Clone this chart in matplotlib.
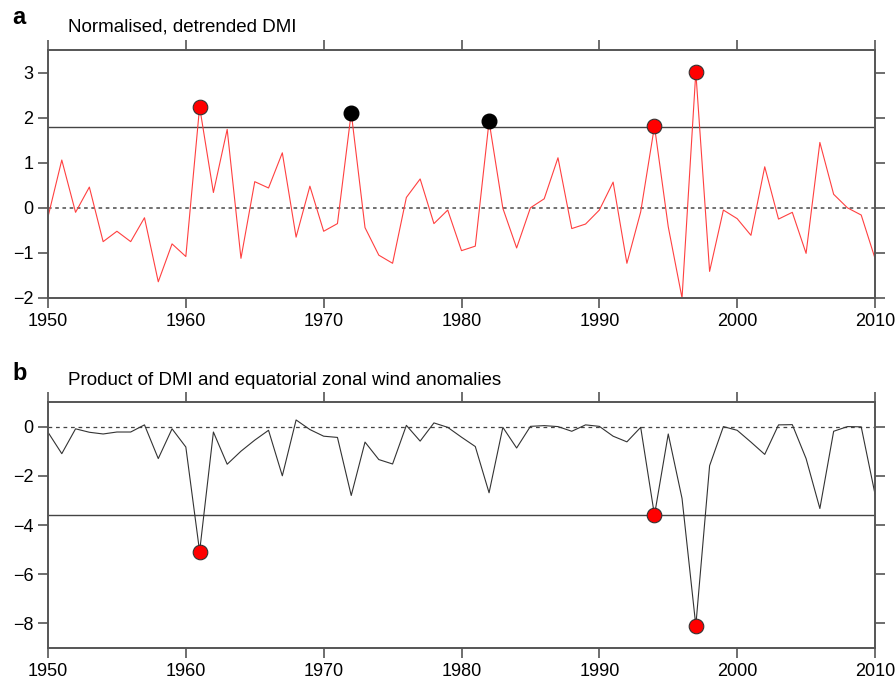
import matplotlib
matplotlib.use("Agg")
import matplotlib.pyplot as plt
import numpy as np

plt.rcParams['font.family'] = ['Liberation Sans', 'DejaVu Sans']

years = list(range(1950, 2011))

dmi = [-0.20, 1.06, -0.10, 0.46, -0.75, -0.52, -0.75, -0.22, -1.64, -0.80,
       -1.08, 2.24, 0.34, 1.74, -1.12, 0.58, 0.44, 1.22, -0.65, 0.48,
       -0.52, -0.35, 2.11, -0.44, -1.05, -1.23, 0.23, 0.64, -0.35, -0.05,
       -0.95, -0.85, 1.92, -0.01, -0.89, 0.00, 0.20, 1.11, -0.46, -0.36,
       -0.05, 0.57, -1.23, -0.09, 1.81, -0.42, -2.00, 3.01, -1.41, -0.05,
       -0.24, -0.61, 0.91, -0.25, -0.10, -1.01, 1.45, 0.30, 0.00, -0.16,
       -1.12]

product = [-0.23, -1.10, -0.09, -0.23, -0.30, -0.22, -0.22, 0.07, -1.30, -0.09,
           -0.83, -5.08, -0.22, -1.53, -1.00, -0.55, -0.15, -2.00, 0.27, -0.12,
           -0.39, -0.44, -2.80, -0.63, -1.34, -1.52, 0.05, -0.59, 0.15, -0.03,
           -0.43, -0.81, -2.69, -0.03, -0.87, 0.01, 0.04, 0.00, -0.19, 0.07,
           0.01, -0.39, -0.62, -0.03, -3.60, -0.30, -2.92, -8.09, -1.59, 0.00,
           -0.15, -0.63, -1.13, 0.07, 0.08, -1.30, -3.33, -0.19, 0.00, -0.01,
           -2.74]

dmi_threshold = 1.8
product_threshold = -3.6

red_years_a = [1961, 1994, 1997]
black_years_a = [1972, 1982]
red_years_b = [1961, 1994, 1997]

titles = ["Normalised, detrended DMI", "Product of DMI and equatorial zonal wind anomalies"]
panel_labels = ["a", "b"]

fig = plt.figure(figsize=(8.96, 6.83), dpi=100)
ax_a = fig.add_axes([48/896, (683-298)/683, 827/896, 248/683])
ax_b = fig.add_axes([48/896, (683-648)/683, 827/896, 246/683])

spine_col = '#555555'

def style(ax):
    for s in ax.spines.values():
        s.set_color(spine_col)
        s.set_linewidth(1.4)
    ax.tick_params(axis='both', which='both', direction='out', length=7, width=1.2,
                   color=spine_col, top=True, right=True, labelsize=13, pad=3.5)
    ax.set_xlim(1950, 2010)
    ax.set_xticks([1950, 1960, 1970, 1980, 1990, 2000, 2010])

idx = {y: i for i, y in enumerate(years)}

# Panel a
style(ax_a)
ax_a.set_ylim(-2, 3.5)
ax_a.set_yticks([-2, -1, 0, 1, 2, 3])
ax_a.set_yticklabels(['\u22122', '\u22121', '0', '1', '2', '3'])
ax_a.axhline(0, color='#666666', lw=1.3, ls=(0, (2, 2)), zorder=1)
ax_a.axhline(dmi_threshold, color='#444444', lw=1.0, zorder=1)
ax_a.plot(years, dmi, color='#ff4040', lw=0.8, zorder=2)
ax_a.plot(red_years_a, [dmi[idx[y]] for y in red_years_a], 'o', ms=10.5,
          mfc='#ff0000', mec='#333333', mew=0.8, zorder=3, clip_on=False)
ax_a.plot(black_years_a, [dmi[idx[y]] for y in black_years_a], 'o', ms=10.5,
          mfc='black', mec='black', zorder=3, clip_on=False)

# Panel b
style(ax_b)
ax_b.set_ylim(-9, 1)
ax_b.set_yticks([-8, -6, -4, -2, 0])
ax_b.set_yticklabels(['\u22128', '\u22126', '\u22124', '\u22122', '0'])
ax_b.axhline(0, color='#444444', lw=0.9, ls=(0, (3, 3)), zorder=1)
ax_b.axhline(product_threshold, color='#444444', lw=1.0, zorder=1)
ax_b.plot(years, product, color='#333333', lw=0.8, zorder=2)
ax_b.plot(red_years_b, [product[idx[y]] for y in red_years_b], 'o', ms=10.5,
          mfc='#ff0000', mec='#333333', mew=0.8, zorder=3, clip_on=False)

# titles and panel labels
fig.text(68/896, 1 - 32/683, titles[0], fontsize=13.5, ha='left', va='baseline')
fig.text(68/896, 1 - 385/683, titles[1], fontsize=13.5, ha='left', va='baseline')
fig.text(12/896, 1 - 24/683, panel_labels[0], fontsize=17, fontweight='bold', ha='left', va='baseline')
fig.text(12/896, 1 - 380/683, panel_labels[1], fontsize=17, fontweight='bold', ha='left', va='baseline')

fig.savefig('out.png', dpi=100)
